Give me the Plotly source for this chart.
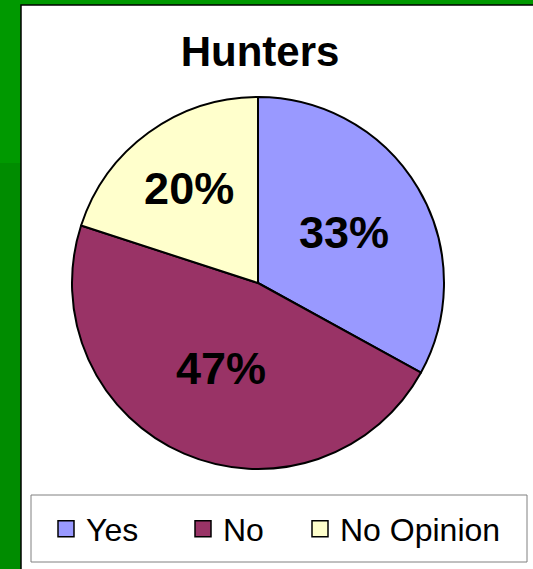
import plotly.graph_objects as go

categories = ["Yes", "No", "No Opinion"]
values = [33, 47, 20]
colors = ["#9999FF", "#993366", "#FFFFCC"]
title_text = "Hunters"

W, H = 533, 569
FONT = "Liberation Sans, Arial, sans-serif"

def px(x):
    return x / W

def py(y):
    return (H - y) / H

fig = go.Figure()
fig.add_trace(go.Pie(
    labels=categories,
    values=values,
    sort=False,
    direction="clockwise",
    rotation=0,
    marker=dict(colors=colors, line=dict(color="black", width=2)),
    textinfo="percent",
    texttemplate="<b>%{percent:.0%}</b>",
    textposition="inside",
    insidetextorientation="horizontal",
    textfont=dict(family=FONT, size=45, color="black"),
    hoverinfo="label+percent",
    domain=dict(x=[px(72), px(444)], y=[py(469), py(97)]),
    showlegend=False,
))

# legend entries (larger square swatches, same categories/colours as the pie)
legend_ids = ["legend", "legend2", "legend3"]
for cat, col, lid in zip(categories, colors, legend_ids):
    fig.add_trace(go.Scatter(
        x=[None], y=[None], mode="markers", name=cat,
        marker=dict(symbol="square", size=16, color=col, line=dict(color="black", width=1.5)),
        hoverinfo="skip", showlegend=True, legend=lid,
    ))

shapes = [
    dict(type="rect", xref="paper", yref="paper", x0=-0.02, x1=px(21), y0=-0.02, y1=py(163),
         fillcolor="#008C00", line=dict(width=0), layer="below"),
    dict(type="rect", xref="paper", yref="paper", x0=px(21), x1=1.02, y0=-0.02, y1=py(5),
         fillcolor="white", line=dict(color="black", width=1.5), layer="below"),
    dict(type="rect", xref="paper", yref="paper", x0=px(31), x1=px(527), y0=py(562), y1=py(495),
         fillcolor="rgba(0,0,0,0)", line=dict(color="#808080", width=1), layer="below"),
]

legend_common = dict(orientation="h", xanchor="left", y=py(529), yanchor="middle",
                     font=dict(size=32, family=FONT, color="black"),
                     bgcolor="rgba(0,0,0,0)", borderwidth=0)

fig.update_layout(
    width=W, height=H,
    margin=dict(l=0, r=0, t=0, b=0),
    paper_bgcolor="#009900",
    plot_bgcolor="rgba(0,0,0,0)",
    font=dict(family=FONT, color="black"),
    xaxis=dict(visible=False),
    yaxis=dict(visible=False),
    title=dict(text="<b>" + title_text + "</b>", x=px(260), xanchor="center",
               y=py(51), yanchor="middle", yref="paper",
               font=dict(size=42, family=FONT, color="black")),
    legend=dict(x=px(46), **legend_common),
    legend2=dict(x=px(183), **legend_common),
    legend3=dict(x=px(300), **legend_common),
    shapes=shapes,
)

fig.write_html("out.html", config={"displayModeBar": False},
               post_script="document.body.style.margin='0px';")
